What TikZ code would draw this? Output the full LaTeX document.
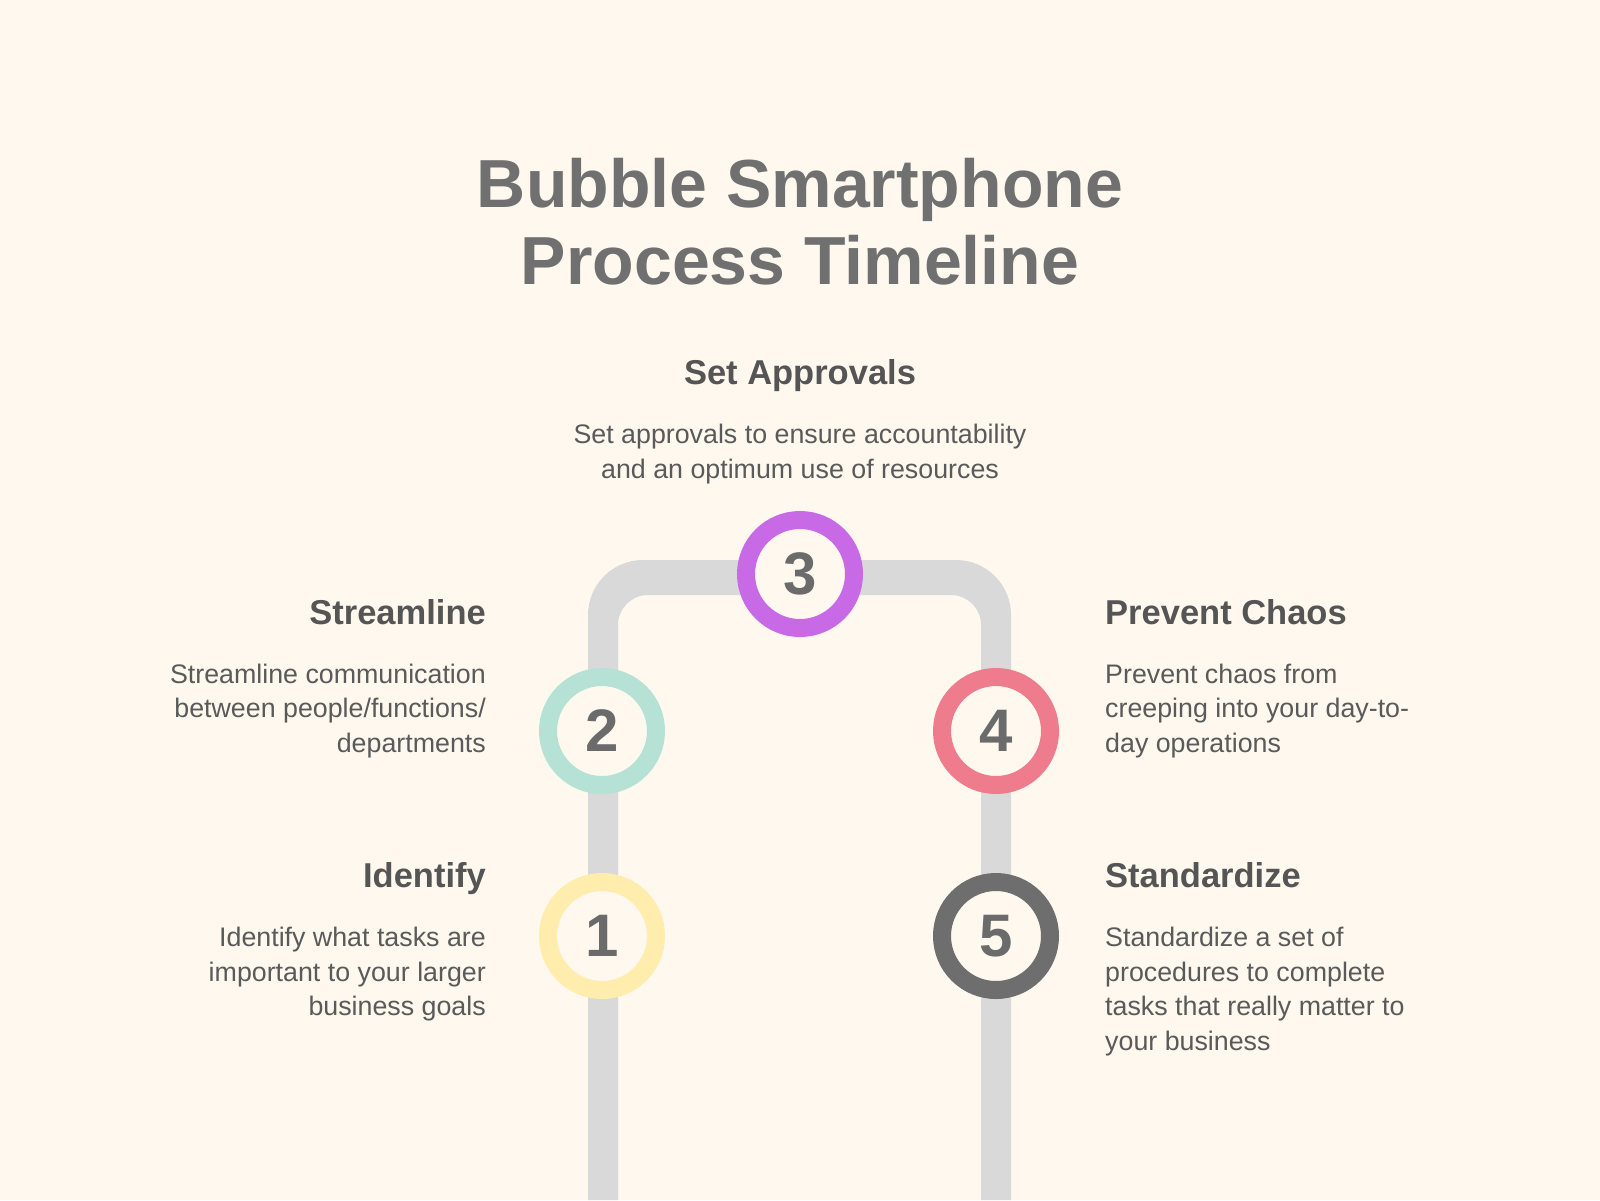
\documentclass[tikz,border=0pt]{standalone}
\usepackage{fontspec}
\setmainfont{Liberation Sans}
\definecolor{bgc}{HTML}{FEF8EE}
\definecolor{trackc}{HTML}{D9D9D9}
\definecolor{titlec}{HTML}{707070}
\definecolor{headc}{HTML}{555555}
\definecolor{bodyc}{HTML}{5A5A5A}
\definecolor{numc}{HTML}{6B6B6B}
\definecolor{ringa}{HTML}{FFEDAE}
\definecolor{ringb}{HTML}{B5E2D4}
\definecolor{ringc}{HTML}{C86AE6}
\definecolor{ringd}{HTML}{EE7C8C}
\definecolor{ringe}{HTML}{6E6E6E}
\tikzset{
  titletext/.style={inner sep=0, anchor=base, text=titlec, font=\fontsize{68}{80}\selectfont\bfseries},
  headtext/.style={inner sep=0, text=headc, font=\fontsize{34.5}{40}\selectfont\bfseries},
  bodytext/.style={inner sep=0, text=bodyc, font=\fontsize{26.8}{34}\selectfont},
  ring/.style={circle, draw=#1, line width=18pt, fill=bgc, minimum size=108pt, inner sep=0,
    text=numc, font=\fontsize{60}{60}\selectfont\bfseries}
}
\begin{document}
\begin{tikzpicture}[x=1pt, y=-1pt]
\useasboundingbox (0,0) rectangle (1600,1200);
\fill[bgc] (0,0) rectangle (1600,1200);
% track
\fill[trackc] (588,1200) -- (588,615) arc[start angle=180, end angle=270, radius=55]
  -- (956,560) arc[start angle=270, end angle=360, radius=55] -- (1011,1200)
  -- (981,1200) -- (981,625) arc[start angle=0, end angle=-90, radius=30]
  -- (648,595) arc[start angle=270, end angle=180, radius=30] -- (618,1200) -- cycle;
% title
\node[titletext] (t1) at (800,207) {Bubble Smartphone};
\node[titletext] (t2) at (800,284) {Process Timeline};
% circles
\node[ring=ringa] (c1) at (602,936) {1};
\node[ring=ringb] (c2) at (602,731) {2};
\node[ring=ringc] (c3) at (800,574) {3};
\node[ring=ringd] (c4) at (996,731) {4};
\node[ring=ringe] (c5) at (996,936) {5};
% step 3
\node[headtext, anchor=base] (h3) at (800,384) {Set Approvals};
\node[bodytext, anchor=base] (b3a) at (800,443) {Set approvals to ensure accountability};
\node[bodytext, anchor=base] (b3b) at (800,478) {and an optimum use of resources};
% step 2
\node[headtext, anchor=base east] (h2) at (486,624) {Streamline};
\node[bodytext, anchor=base east] (b2a) at (486,683) {Streamline communication};
\node[bodytext, anchor=base east] (b2b) at (486,717) {between people/functions/};
\node[bodytext, anchor=base east] (b2c) at (486,752) {departments};
% step 1
\node[headtext, anchor=base east] (h1) at (486,887) {Identify};
\node[bodytext, anchor=base east] (b1a) at (486,946) {Identify what tasks are};
\node[bodytext, anchor=base east] (b1b) at (486,981) {important to your larger};
\node[bodytext, anchor=base east] (b1c) at (486,1015) {business goals};
% step 4
\node[headtext, anchor=base west] (h4) at (1105,624) {Prevent Chaos};
\node[bodytext, anchor=base west] (b4a) at (1105,683) {Prevent chaos from};
\node[bodytext, anchor=base west] (b4b) at (1105,717) {creeping into your day-to-};
\node[bodytext, anchor=base west] (b4c) at (1105,752) {day operations};
% step 5
\node[headtext, anchor=base west] (h5) at (1105,887) {Standardize};
\node[bodytext, anchor=base west] (b5a) at (1105,946) {Standardize a set of};
\node[bodytext, anchor=base west] (b5b) at (1105,981) {procedures to complete};
\node[bodytext, anchor=base west] (b5c) at (1105,1015) {tasks that really matter to};
\node[bodytext, anchor=base west] (b5d) at (1105,1050) {your business};
\end{tikzpicture}
\end{document}
